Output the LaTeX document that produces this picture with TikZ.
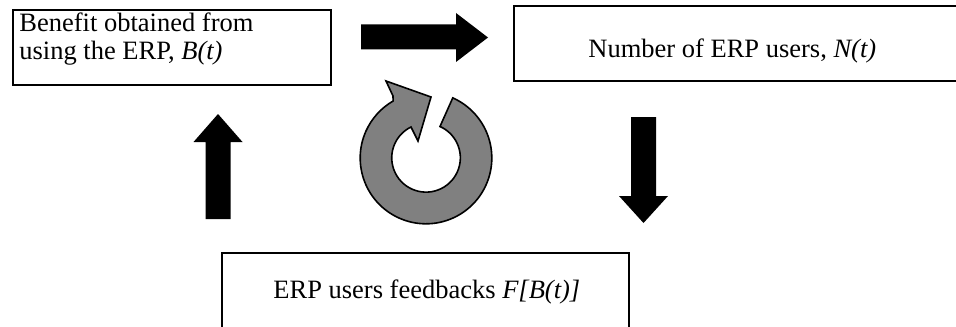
\documentclass[tikz,border=0pt]{standalone}
\usepackage{fontspec}
\setmainfont{Liberation Serif}
\tikzset{
  box/.style={draw=black, line width=1.1pt, fill=white, inner sep=0pt, anchor=north west},
  lbl/.style={inner sep=0pt, font=\fontsize{13.25}{14}\selectfont},
  blockarrow/.style={fill=black, draw=none},
  cyclearrow/.style={fill=gray, draw=black, line width=0.8pt, line join=miter}
}
\begin{document}
\begin{tikzpicture}[x=0.5pt,y=0.5pt]
\useasboundingbox (0,0) rectangle (956,-326);
% boxes
\node[box, minimum width=159pt, minimum height=37.5pt] (b1) at (12,-9) {};
\node[box, minimum width=226pt, minimum height=37.5pt] (b2) at (513,-5) {};
\node[box, minimum width=203.5pt, minimum height=41.5pt] (b3) at (221,-252) {};
% texts
\node[lbl, anchor=north west, align=left] (t1) at (19,-12.5) {Benefit obtained from\\using the ERP, \textit{B(t)}};
\node[lbl, anchor=base west] (t2) at (588,-58) {Number of ERP users, \textit{N(t)}};
\node[lbl, anchor=base west] (t3) at (273,-298) {ERP users feedbacks \textit{F[B(t)]}};
% block arrows
\fill[blockarrow] (361,-24.5) -- (456,-24.5) -- (456,-13) -- (488,-37.5) -- (456,-62) -- (456,-49.5) -- (361,-49.5) -- cycle;
\fill[blockarrow] (205.5,-219) -- (205.5,-142) -- (193.5,-142) -- (218,-114) -- (242.5,-142) -- (230.5,-142) -- (230.5,-219) -- cycle;
\fill[blockarrow] (631,-117) -- (656,-117) -- (656,-196) -- (668,-196) -- (643.5,-223) -- (619,-196) -- (631,-196) -- cycle;
% circular arrow
\begin{scope}[shift={(426,-158)}]
\draw[cyclearrow] (66:65.8) arc[start angle=66, end angle=-240, radius=65.8]
  -- (-33,62) -- (-40,77) -- (5,61) -- (-8,17) -- (-15,31)
  arc[start angle=-244, end angle=66, radius=34.3] -- cycle;
\end{scope}
\end{tikzpicture}
\end{document}
